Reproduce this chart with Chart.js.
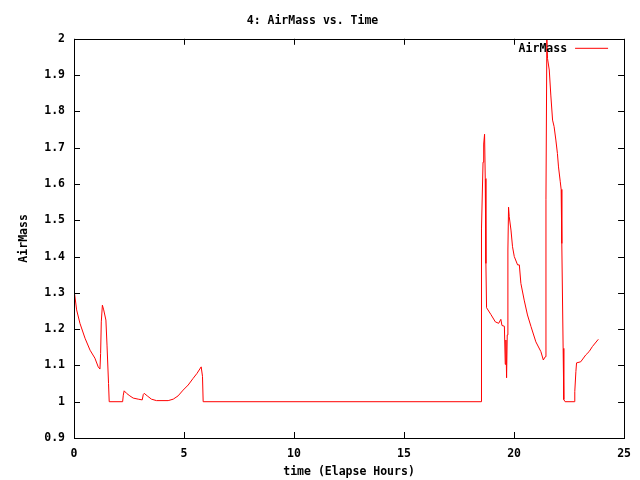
<!DOCTYPE html>
<html>
<head>
<meta charset="utf-8">
<script src="https://cdn.jsdelivr.net/npm/chart.js@4/dist/chart.umd.min.js"></script>
<style>
  html, body { margin: 0; padding: 0; background: #fff; }
  #wrap { width: 640px; height: 480px; }
</style>
</head>
<body>
<div id="wrap"><canvas id="myChart" width="640" height="480"></canvas></div>
<script>
// valeurs (heures écoulées, masse d'air)
const times = [
    0, 0.12, 0.27, 0.5, 0.73, 0.95, 1.10, 1.18, 1.21, 1.24, 1.29, 1.35, 1.45, 1.50, 1.57, 1.60,
    2.21, 2.24, 2.28, 2.39, 2.54, 2.69, 2.92, 3.10, 3.15, 3.19, 3.33, 3.52, 3.75, 4.28, 4.51,
    4.73, 4.96, 5.19, 5.41, 5.59, 5.78, 5.84, 5.87,
    18.50, 18.51, 18.53, 18.59, 18.62, 18.66, 18.69, 18.72, 18.75, 18.95, 19.15, 19.30, 19.40,
    19.45, 19.56, 19.60, 19.63, 19.66, 19.69, 19.72, 19.75, 19.78, 19.86, 19.93, 20.01, 20.16,
    20.24, 20.31, 20.46, 20.61, 20.77, 20.99, 21.22, 21.33, 21.42, 21.45, 21.49, 21.52, 21.60,
    21.67, 21.75, 21.82, 21.90, 21.97, 22.02, 22.10, 22.14, 22.17, 22.23, 22.26, 22.32, 22.75,
    22.76, 22.81, 22.84, 23.03, 23.26, 23.41, 23.56, 23.83
];
const airMass = [
    1.31, 1.253, 1.216, 1.175, 1.142, 1.12, 1.096, 1.09, 1.133, 1.22, 1.266, 1.253, 1.225, 1.156, 1.05, 1.0,
    1.0, 1.018, 1.03, 1.023, 1.016, 1.01, 1.007, 1.005, 1.02, 1.023, 1.016, 1.007, 1.003, 1.003, 1.007,
    1.016, 1.032, 1.046, 1.064, 1.078, 1.096, 1.07, 1.0,
    1.0, 1.156, 1.476, 1.66, 1.71, 1.737, 1.615, 1.381, 1.259, 1.24, 1.22, 1.216, 1.227,
    1.21, 1.208, 1.103, 1.17, 1.066, 1.184, 1.418, 1.536, 1.51, 1.473, 1.427, 1.40, 1.377,
    1.377, 1.326, 1.28, 1.239, 1.207, 1.165, 1.138, 1.115, 1.124, 1.558, 1.997, 1.946, 1.914,
    1.845, 1.776, 1.758, 1.721, 1.684, 1.647, 1.606, 1.585, 1.436, 1.147, 1.006, 1.0, 1.0,
    1.028, 1.083, 1.107, 1.11, 1.129, 1.138, 1.152, 1.172
];
const xTicks = [0, 5, 10, 15, 20, 25];
const yTicks = [0.9, 1, 1.1, 1.2, 1.3, 1.4, 1.5, 1.6, 1.7, 1.8, 1.9, 2];

const fontFam = '"DejaVu Sans Mono", "Liberation Mono", monospace';
const baseFont = { family: fontFam, size: 11.5, weight: 'bold', lineHeight: 1.2 };

let points = [];
for (let i = 0; i < times.length; i++) {
    points.push({ x: times[i], y: airMass[i] });
}

// cadre + graduations vers l'intérieur + légende façon gnuplot
const gnuplotFrame = {
    id: 'gnuplotFrame',
    afterDatasetsDraw(chart) {
        const c = chart.ctx;
        const a = chart.chartArea;
        const xs = chart.scales.x;
        const ys = chart.scales.y;
        const len = 6;
        c.save();
        c.strokeStyle = '#000';
        c.lineWidth = 1;
        c.beginPath();
        xTicks.forEach(v => {
            const px = Math.round(xs.getPixelForValue(v)) + 0.5;
            c.moveTo(px, a.bottom); c.lineTo(px, a.bottom - len);
            c.moveTo(px, a.top); c.lineTo(px, a.top + len);
        });
        yTicks.forEach(v => {
            const py = Math.round(ys.getPixelForValue(v)) + 0.5;
            c.moveTo(a.left, py); c.lineTo(a.left + len, py);
            c.moveTo(a.right, py); c.lineTo(a.right - len, py);
        });
        c.stroke();
        c.strokeRect(Math.round(a.left) + 0.5, Math.round(a.top) + 0.5,
            Math.round(a.right - a.left), Math.round(a.bottom - a.top));

        // légende
        const ds = chart.data.datasets[0];
        c.font = 'bold 11.5px ' + fontFam;
        c.fillStyle = '#000';
        c.textAlign = 'right';
        c.textBaseline = 'middle';
        c.fillText(ds.label, a.right - 57, a.top + 10);
        c.strokeStyle = ds.borderColor;
        c.beginPath();
        c.moveTo(a.right - 49, a.top + 9.5);
        c.lineTo(a.right - 16, a.top + 9.5);
        c.stroke();
        c.restore();
    }
};

let ctx = document.getElementById('myChart').getContext('2d');
let myChart = new Chart(ctx, {
    type: 'line',
    data: {
        datasets: [{
            label: 'AirMass',
            data: points,
            borderColor: '#ff0000',
            borderWidth: 1,
            pointRadius: 0,
            tension: 0,
            fill: false
        }]
    },
    options: {
        responsive: false,
        animation: false,
        layout: { padding: { top: 0, right: 15, bottom: 0, left: 0 } },
        plugins: {
            legend: { display: false },
            tooltip: { enabled: false },
            title: {
                display: true,
                text: '4: AirMass vs. Time',
                color: '#000',
                font: baseFont,
                padding: { top: 14, bottom: 11 }
            }
        },
        scales: {
            x: {
                type: 'linear',
                min: 0,
                max: 25,
                afterBuildTicks: (scale) => { scale.ticks = xTicks.map(v => ({ value: v })); },
                afterFit: (scale) => { scale.height = 42; },
                grid: { display: false, drawTicks: false },
                border: { display: false },
                ticks: { color: '#000', font: baseFont, padding: 9, maxRotation: 0 },
                title: {
                    display: true,
                    text: 'time (Elapse Hours)',
                    color: '#000',
                    font: baseFont,
                    padding: { top: 0, bottom: 1 }
                }
            },
            y: {
                type: 'linear',
                min: 0.9,
                max: 2,
                afterBuildTicks: (scale) => { scale.ticks = yTicks.map(v => ({ value: v })); },
                afterFit: (scale) => { scale.width = 74; },
                grid: { display: false, drawTicks: false },
                border: { display: false },
                ticks: {
                    color: '#000',
                    font: baseFont,
                    padding: 9,
                    callback: (v) => String(Math.round(v * 10) / 10)
                },
                title: {
                    display: true,
                    text: 'AirMass',
                    color: '#000',
                    font: baseFont,
                    padding: { top: 17, bottom: 0 }
                }
            }
        }
    },
    plugins: [gnuplotFrame]
});
</script>
</body>
</html>
